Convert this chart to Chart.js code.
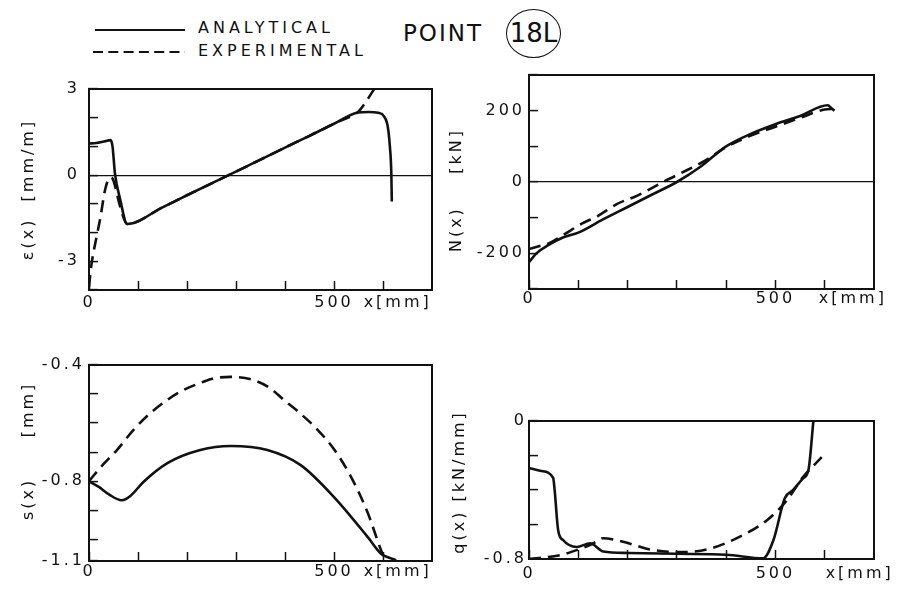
<!DOCTYPE html>
<html>
<head>
<meta charset="utf-8">
<script src="https://cdn.jsdelivr.net/npm/chart.js@4.4.1/dist/chart.umd.min.js"></script>
<style>
  html, body { margin: 0; padding: 0; background: #fff; overflow: hidden; }
  body { width: 900px; height: 596px; position: relative; font-family: "DejaVu Sans", sans-serif; color: #111; }
  canvas { position: absolute; }
  .txt { position: absolute; white-space: nowrap; letter-spacing: 4px; font-size: 16px; line-height: 20px; }
</style>
</head>
<body>
<svg style="position:absolute;left:0;top:0" width="200" height="70">
  <line x1="95" y1="30" x2="185" y2="30" stroke="#111" stroke-width="2"/>
  <line x1="93" y1="52" x2="185" y2="52" stroke="#111" stroke-width="2" stroke-dasharray="10 5.3"/>
</svg>
<div class="txt" style="left:198px;top:18px">ANALYTICAL</div>
<div class="txt" style="left:198px;top:41px">EXPERIMENTAL</div>
<div class="txt" style="left:403px;top:20px;font-size:23px;line-height:26px;letter-spacing:2px">POINT</div>
<div class="txt" style="left:506px;top:9px;width:55px;height:49px;border:1.5px solid #111;border-radius:50%;box-sizing:border-box;text-align:center;font-size:26px;line-height:46px;letter-spacing:0">18L</div>

<script>
// x ticks shared by all four panels (mm)
const xTicks = [0, 100, 200, 300, 400, 500, 600];
const xTickLabels = ['0', '', '', '', '', '500', ''];

// strain eps(x) [mm/m]
const epsAnaX = [0, 15, 30, 44, 48, 53, 63, 78, 150, 200, 285, 350, 400, 450, 500, 549, 570, 590, 602, 610, 614, 617, 618];
const epsAnaY = [1.1, 1.12, 1.17, 1.22, 1.0, 0.05, -0.8, -1.7, -1.12, -0.7, 0, 0.54, 0.96, 1.37, 1.79, 2.18, 2.2, 2.17, 2.05, 1.66, 1.0, 0.05, -0.92];
const epsExpX = [0, 3, 6, 16, 23, 33, 43, 48, 55, 62, 78, 150, 200, 285, 350, 400, 450, 500, 540, 549, 565, 582, 595];
const epsExpY = [-3.9, -3.4, -3.0, -2.1, -1.5, -0.5, -0.08, -0.12, -0.5, -1.0, -1.7, -1.12, -0.7, 0, 0.54, 0.96, 1.37, 1.79, 2.1, 2.2, 2.55, 3.0, 3.35];
const epsTicks = [-4, -3, -2, -1, 0, 1, 2, 3];
const epsTickLabels = ['', '-3', '', '', '0', '', '', '3'];

// normal force N(x) [kN]
const nAnaX = [0, 15, 38, 70, 100, 150, 200, 250, 300, 350, 400, 450, 500, 550, 606, 615, 620];
const nAnaY = [-225, -200, -178, -155, -142, -105, -70, -35, 0, 45, 100, 135, 162, 185, 215, 205, 200];
const nExpX = [0, 20, 40, 70, 107, 141, 178, 220, 272, 320, 360, 400, 450, 500, 550, 600, 620];
const nExpY = [-188, -180, -172, -148, -117, -94, -62, -38, 0, 33, 62, 98, 130, 155, 180, 203, 205];
const nTicks = [-300, -200, -100, 0, 100, 200, 300];
const nTickLabels = ['', '-200', '', '0', '', '200', ''];

// slip s(x) [mm]
const sAnaX = [0, 20, 40, 67, 85, 111, 160, 227, 289, 364, 432, 500, 569, 596, 615, 627];
const sAnaY = [-0.8, -0.82, -0.845, -0.866, -0.85, -0.803, -0.738, -0.693, -0.679, -0.693, -0.745, -0.855, -0.993, -1.05, -1.065, -1.072];
const sExpX = [0, 25, 57, 90, 125, 160, 193, 230, 254, 289, 336, 370, 398, 430, 467, 500, 535, 569, 596, 604];
const sExpY = [-0.8, -0.75, -0.693, -0.625, -0.566, -0.52, -0.486, -0.46, -0.446, -0.441, -0.452, -0.48, -0.521, -0.565, -0.624, -0.69, -0.786, -0.91, -1.038, -1.07];
const sTicks = [-1.075, -1.0, -0.9, -0.8, -0.7, -0.6, -0.5, -0.4];
const sTickLabels = ['-1.1', '', '', '-0.8', '', '', '', '-0.4'];

// bond stress q(x) [kN/mm]
const qAnaX = [0, 25, 49, 52, 59, 69, 97, 124, 151, 200, 300, 400, 475, 496, 519, 536, 556, 567, 577];
const qAnaY = [-0.272, -0.29, -0.33, -0.4, -0.63, -0.69, -0.73, -0.709, -0.757, -0.765, -0.77, -0.775, -0.796, -0.69, -0.448, -0.40, -0.332, -0.284, 0];
const qExpX = [0, 63, 100, 130, 150, 191, 246, 314, 367, 428, 483, 523, 556, 594];
const qExpY = [-0.8, -0.778, -0.745, -0.71, -0.68, -0.70, -0.745, -0.76, -0.74, -0.67, -0.575, -0.46, -0.325, -0.21];
const qTicks = [-0.8, -0.6, -0.4, -0.2, 0];
const qTickLabels = ['-0.8', '', '', '', '0'];

const INK = '#111';
const CLEAR = 'rgba(0,0,0,0)';
const FONT = { family: '"DejaVu Sans", sans-serif', size: 16 };

// the lettering of the original is spaced out
const spacing = {
  id: 'spacing',
  beforeLayout(chart) { chart.ctx.letterSpacing = '3px'; },
  beforeDraw(chart) { chart.ctx.letterSpacing = '3px'; }
};

function pts(xs, ys) {
  return xs.map((x, i) => ({ x: x, y: ys[i] }));
}

function makePanel(p) {
  let canvas = document.createElement('canvas');
  canvas.width = p.w;
  canvas.height = p.h;
  canvas.style.left = p.left + 'px';
  canvas.style.top = p.top + 'px';
  document.body.appendChild(canvas);

  let xVals = xTicks.concat([p.unitAt]);
  let xLabels = xTickLabels.concat(['x[mm]']);

  return new Chart(canvas, {
    type: 'line',
    data: {
      datasets: [{
        label: 'ANALYTICAL',
        data: pts(p.anaX, p.anaY),
        borderColor: INK,
        borderWidth: 2.6,
        pointRadius: 0,
        cubicInterpolationMode: 'monotone',
        xAxisID: 'x',
        yAxisID: 'y'
      }, {
        label: 'EXPERIMENTAL',
        data: pts(p.expX, p.expY),
        borderColor: INK,
        borderWidth: 2.6,
        borderDash: [12, 7],
        pointRadius: 0,
        cubicInterpolationMode: 'monotone',
        xAxisID: 'x',
        yAxisID: 'y'
      }]
    },
    options: {
      responsive: false,
      animation: false,
      events: [],
      layout: { padding: { top: 30, right: p.padRight, left: 0, bottom: 0 } },
      plugins: { legend: { display: false }, tooltip: { enabled: false } },
      scales: {
        x: {
          type: 'linear',
          min: 0,
          max: 700,
          afterBuildTicks: s => { s.ticks = xVals.map(v => ({ value: v })); },
          afterFit: s => { s.height = 30; },
          ticks: { callback: (v, i) => xLabels[i], autoSkip: false, maxRotation: 0, minRotation: 0, padding: p.xPad, color: INK, font: FONT },
          grid: {
            color: CLEAR,
            tickColor: c => (c.tick && c.tick.value === p.unitAt) ? CLEAR : INK,
            tickLength: -9,
            tickWidth: 1.5
          },
          border: { color: INK, width: 2 }
        },
        y: {
          type: 'linear',
          min: p.yTicks[0],
          max: p.yTicks[p.yTicks.length - 1],
          afterBuildTicks: s => { s.ticks = p.yTicks.map(v => ({ value: v })); },
          afterFit: s => { s.width = p.yWidth; },
          ticks: { callback: (v, i) => p.yLabels[i], autoSkip: false, padding: p.yPad, color: INK, font: FONT },
          grid: {
            color: c => (p.zeroLine && c.tick && c.tick.value === 0) ? INK : CLEAR,
            lineWidth: 1.2,
            tickColor: INK,
            tickLength: -9,
            tickWidth: 1.5
          },
          border: { color: INK, width: 2 },
          title: { display: true, text: p.yTitle, color: INK, font: FONT, padding: 0 }
        },
        x2: {
          type: 'linear',
          position: 'top',
          ticks: { display: false },
          grid: { drawTicks: false, drawOnChartArea: false, color: CLEAR },
          border: { color: INK, width: 2 },
          afterFit: s => { s.height = 0; }
        },
        y2: {
          type: 'linear',
          position: 'right',
          ticks: { display: false },
          grid: { drawTicks: false, drawOnChartArea: false, color: CLEAR },
          border: { color: INK, width: 2 },
          afterFit: s => { s.width = 0; }
        }
      }
    },
    plugins: [spacing]
  });
}

// eps(x), top left
makePanel({
  left: 19, top: 59, w: 453, h: 261, padRight: 40, yWidth: 70, xPad: 12, yPad: 18,
  anaX: epsAnaX, anaY: epsAnaY, expX: epsExpX, expY: epsExpY,
  yTicks: epsTicks, yLabels: epsTickLabels, zeroLine: true,
  yTitle: 'ε(x)  [mm/m]', unitAt: 630
});

// N(x), top right
makePanel({
  left: 447, top: 45, w: 462, h: 274, padRight: 35, yWidth: 82, xPad: 9, yPad: 13,
  anaX: nAnaX, anaY: nAnaY, expX: nExpX, expY: nExpY,
  yTicks: nTicks, yLabels: nTickLabels, zeroLine: true,
  yTitle: 'N(x)    [kN]  ', unitAt: 657
});

// s(x), bottom left
makePanel({
  left: 19, top: 335, w: 453, h: 256, padRight: 40, yWidth: 70, xPad: 10, yPad: 13,
  anaX: sAnaX, anaY: sAnaY, expX: sExpX, expY: sExpY,
  yTicks: sTicks, yLabels: sTickLabels, zeroLine: false,
  yTitle: '   s(x)     [mm]', unitAt: 630
});

// q(x), bottom right
makePanel({
  left: 450, top: 391, w: 469, h: 198, padRight: 45, yWidth: 79, xPad: 14, yPad: 11,
  anaX: qAnaX, anaY: qAnaY, expX: qExpX, expY: qExpY,
  yTicks: qTicks, yLabels: qTickLabels, zeroLine: false,
  yTitle: '  q(x) [kN/mm]', unitAt: 671
});
</script>
</body>
</html>
